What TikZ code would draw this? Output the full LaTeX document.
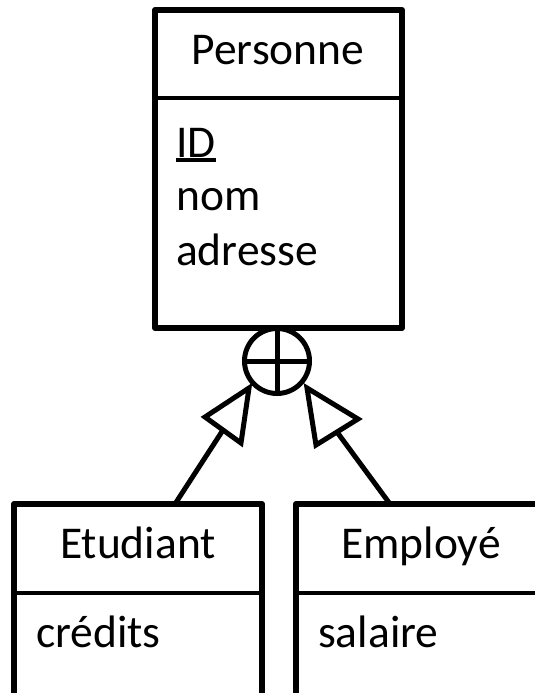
\documentclass[tikz,border=0pt]{standalone}
\usepackage{fontspec}
\setmainfont{Carlito}
\usetikzlibrary{calc}

\tikzset{
  entity/.style={line width=6pt, line join=round},
  divider/.style={line width=4pt},
  isa/.style={line width=5pt, line join=miter},
  label/.style={inner sep=0pt, font=\fontsize{45.5}{55}\selectfont},
  title/.style={label, anchor=base},
  attr/.style={label, anchor=base west},
}

\begin{document}
\begin{tikzpicture}[x=1pt, y=-1pt]
  \useasboundingbox (0,0) rectangle (535,693);
  \clip (0,0) rectangle (535,693);

  % superclass
  \draw[entity] (155,10) rectangle (402,328);
  \draw[divider] (155,98) -- (402,98);
  \node[title] (personne) at (278,65) {Personne};
  \node[attr] (id) at (176,157) {ID};
  \draw[line width=4pt] ($(id.base west)+(0,3)$) -- ($(id.base east)+(0,3)$);
  \node[attr] (nom) at (176,210) {nom};
  \node[attr] (adresse) at (176,265) {adresse};

  % disjoint specialisation
  \node[circle, draw, line width=5pt, minimum size=65pt, inner sep=0pt] (dj) at (277,361) {};
  \draw[line width=5pt] (dj.north) -- (dj.south);
  \draw[line width=5pt] (dj.west) -- (dj.east);

  % subclasses
  \draw[entity] (14,504) rectangle (262,720);
  \draw[divider] (14,593) -- (262,593);
  \node[title] (etudiant) at (138,558) {Etudiant};
  \node[attr] (credits) at (36,647) {crédits};

  \draw[entity] (296,504) rectangle (545,720);
  \draw[divider] (296,593) -- (545,593);
  \node[title] (employe) at (421,558) {Employé};
  \node[attr] (salaire) at (318,647) {salaire};

  % inheritance triangles
  \coordinate (l1) at (249,388);
  \coordinate (l2) at (205,417);
  \coordinate (l3) at (241,443);
  \coordinate (r1) at (307,388);
  \coordinate (r2) at (358,419);
  \coordinate (r3) at (316,445);
  \draw[isa] (l1) -- (l2) -- (l3) -- cycle;
  \draw[isa] (r1) -- (r2) -- (r3) -- cycle;
  \coordinate (lfoot) at (175,504);
  \coordinate (rfoot) at (390,504);
  \draw[isa] ($(l2)!0.5!(l3)$) -- (lfoot);
  \draw[isa] ($(r2)!0.5!(r3)$) -- (rfoot);
\end{tikzpicture}
\end{document}
